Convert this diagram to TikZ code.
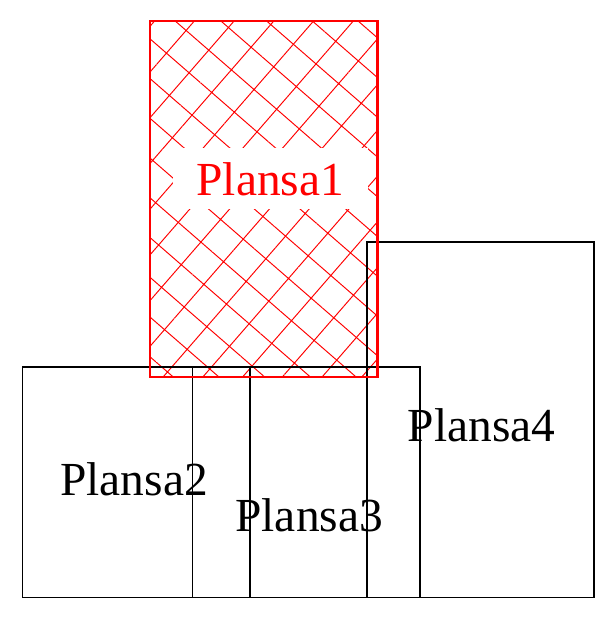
\documentclass[tikz,border=0pt]{standalone}
\usepackage{fontspec}
\setmainfont{Liberation Serif}
\usetikzlibrary{patterns.meta}

\begin{document}
\begin{tikzpicture}[x=0.02cm, y=-0.02cm]

    \tikzstyle{sheet} = [rectangle, draw=black, line width=0.9pt, minimum width=4.55cm, minimum height=4.62cm, inner sep=0pt, outer sep=0pt]
    \tikzstyle{tall} = [minimum height=7.12cm]
    \tikzstyle{hatched} = [rectangle, minimum width=4.55cm, inner sep=0pt, outer sep=0pt, pattern={Hatch[angle=49, distance=0.6cm, xshift=3.566cm, yshift=8.094cm, line width=0.55pt]}, pattern color=red]
    \tikzstyle{edge1} = [draw=red, line width=1.25pt]
    \tikzstyle{tag} = [anchor=base, inner sep=0pt, font=\fontsize{27}{32}\selectfont]

    \useasboundingbox (0,0) rectangle (607,627);

    \node (plansa1)  [hatched, tall]   at (263.85,199.15)  {};

    \node (plansa2)  [sheet]           at (136.15,482.2)   {};
    \node (plansa3)  [sheet]           at (306.35,482.2)   {};
    \node (plansa4)  [sheet, tall]     at (480.5,419.7)    {};

    \draw[edge1]  (plansa1.north west) rectangle (plansa1.south east);

    \node (tag1)  [tag, text=red, fill=white, inner xsep=0.48cm, inner ysep=0.28cm]  at (270.4,195)  {Plansa1};
    \node (tag2)  [tag]  at (134,495)    {Plansa2};
    \node (tag3)  [tag]  at (309.2,531.7)  {Plansa3};
    \node (tag4)  [tag]  at (481.7,441.7)  {Plansa4};
\end{tikzpicture}
\end{document}
